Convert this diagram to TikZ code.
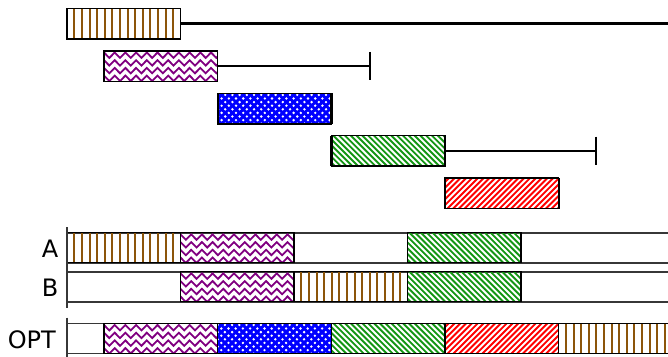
\documentclass[tikz,border=0pt]{standalone}
\usepackage{fontspec}
\newfontfamily\labfont{DejaVu Sans}
\definecolor{brownc}{RGB}{140,85,10}
\definecolor{purplec}{RGB}{128,0,128}
\definecolor{greenc}{RGB}{20,150,20}
\definecolor{rowgray}{RGB}{55,55,55}

% pattern fills drawn directly (x, y, w, h in pt; y grows downwards)
\newcommand\fillbrown[4]{%
  \foreach \k in {0,...,16}{\draw[brownc, line width=2pt] ({#1+7.4+7.6*\k},{#2-1}) -- ++(0,{#4+2});}}
\newcommand\fillpurple[4]{%
  \foreach \j in {0,1,2,3}{%
    \pgfmathsetmacro\zzr{#2+4.4+7.7*\j}%
    \draw[purplec, line width=1.8pt, line join=miter] ({#1-5.35},{\zzr+2.7})
      \foreach \k in {0,...,24}{ -- ({#1+5.35*\k},{\zzr-2.7*cos(180*\k)}) };}}
\newcommand\fillblue[4]{%
  \foreach \k in {-7,...,23}{%
    \draw[blue, line width=2.9pt] ({#1+7.2*\k},{#2-2}) -- ++({#4+4},{#4+4});
    \draw[blue, line width=2.9pt] ({#1+7.2*\k},{#2-2}) -- ++({-#4-4},{#4+4});}}
\newcommand\fillgreen[4]{%
  \foreach \k in {-7,...,22}{%
    \draw[greenc, line width=1.9pt] ({#1+5.8*\k},{#2-2}) -- ++({#4+4},{#4+4});}}
\newcommand\fillred[4]{%
  \foreach \k in {-2,...,27}{%
    \draw[red, line width=1.9pt] ({#1+5.8*\k},{#2-2}) -- ++({-#4-4},{#4+4});}}

\tikzset{
  job/.style={draw=black, line width=1.5pt, rectangle, inner sep=0pt, outer sep=0pt,
    anchor=north west},
  whisk/.style={draw=black, line width=2.2pt},
  rowline/.style={draw=rowgray, line width=1.6pt},
  lab/.style={font=\labfont\fontsize{24}{28}\selectfont, anchor=base east, inner sep=0pt},
}
% \jobbox{name}{colour kind}{x}{y}{w}{h}
\newcommand\jobbox[6]{%
  \begin{scope}
    \clip (#3,#4) rectangle ++(#5,#6);
    \csname fill#2\endcsname{#3}{#4}{#5}{#6}
  \end{scope}
  \node[job, minimum width=#5pt, minimum height=#6pt] (#1) at (#3,#4) {};}

\begin{document}
\begin{tikzpicture}[x=1pt, y=-1pt]
\useasboundingbox (0,0) rectangle (668,356);

% ---- top intervals ----
\jobbox{t1}{brown}{67}{8.3}{113.5}{30.5}
\jobbox{t2}{purple}{104}{50.8}{113.7}{30.5}
\jobbox{t3}{blue}{218}{93.3}{113.4}{30.5}
\jobbox{t4}{green}{331.4}{135.6}{113.6}{30.5}
\jobbox{t5}{red}{445}{178.1}{113.6}{30.5}

\coordinate (e1) at (672,23.55);
\coordinate (e2) at (370,66.05);
\coordinate (e4) at (596,150.85);

\draw[whisk] (t1.east) -- (e1);
\draw[whisk] (t2.east) -- (e2);
\draw[whisk] ([yshift=-1pt]e2 |- t2.north) -- ([yshift=1pt]e2 |- t2.south);
\draw[whisk] (t4.east) -- (e4);
\draw[whisk] ([yshift=-1pt]e4 |- t4.north) -- ([yshift=1pt]e4 |- t4.south);
\foreach \t in {t1,t2,t3,t4,t5}{
  \draw[whisk] (\t.north west) -- (\t.south west);
}
\draw[whisk] (t3.north east) -- (t3.south east);
\draw[whisk] (t5.north east) -- (t5.south east);

% ---- row frames ----
\draw[rowline] (67,232.7) -- (672,232.7);
\draw[rowline] (67,262.7) -- (672,262.7);
\draw[rowline] (67,271.7) -- (672,271.7);
\draw[rowline] (67,301.7) -- (672,301.7);
\draw[rowline] (67,323.3) -- (672,323.3);
\draw[rowline] (67,353.3) -- (672,353.3);

% ---- row A ----
\jobbox{a1}{brown}{67}{232.7}{113.5}{30}
\jobbox{a2}{purple}{180.5}{232.7}{113.5}{30}
\jobbox{a3}{green}{407.4}{232.7}{113.4}{30}
% ---- row B ----
\jobbox{b1}{purple}{180.5}{271.7}{113.5}{30}
\jobbox{b2}{brown}{294}{271.7}{113.4}{30}
\jobbox{b3}{green}{407.4}{271.7}{113.4}{30}
% ---- row OPT ----
\jobbox{o1}{purple}{104}{323.3}{113.7}{30}
\jobbox{o2}{blue}{217.7}{323.3}{113.7}{30}
\jobbox{o3}{green}{331.4}{323.3}{113.6}{30}
\jobbox{o4}{red}{445}{323.3}{113.6}{30}
\jobbox{o5}{brown}{558.6}{323.3}{120}{30}

% axes
\coordinate (ax1) at (67,227);
\coordinate (ax2) at (67,308);
\coordinate (ax3) at (67,317.5);
\coordinate (ax4) at (67,358);
\draw[rowline] (ax1) -- (ax2);
\draw[rowline] (ax3) -- (ax4);

% labels
\node[lab] (lA) at (58.5,257) {A};
\node[lab] (lB) at (58.5,296.6) {B};
\node[lab] (lO) at (56,348) {OPT};
\end{tikzpicture}
\end{document}
